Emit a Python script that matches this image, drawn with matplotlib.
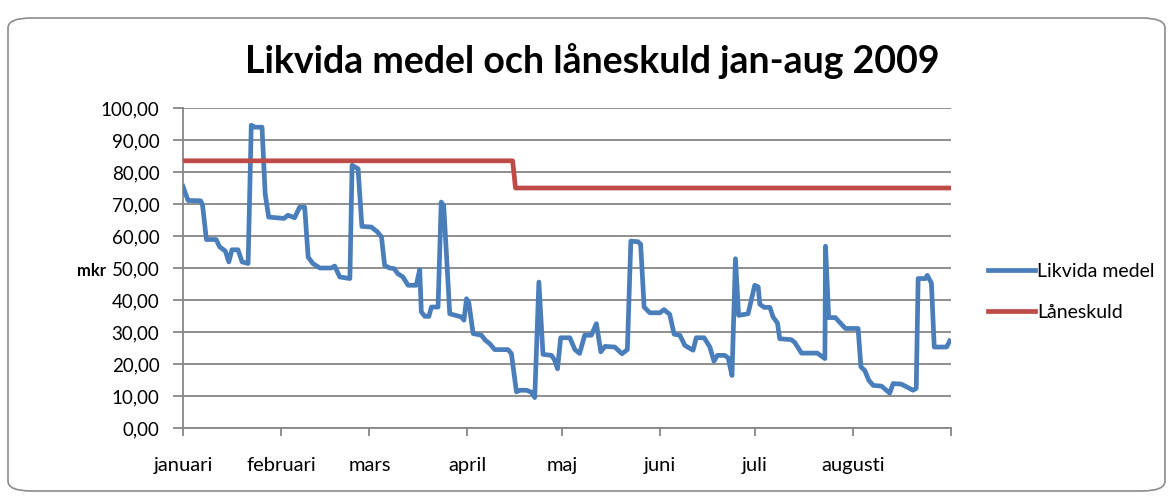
import matplotlib.pyplot as plt
from matplotlib.patches import FancyBboxPatch
from matplotlib.ticker import FuncFormatter
import numpy as np
import pandas as pd

# dag (från 1 jan 2009) och värde, avlästa punkter
likvida_dag = [0, 1.6, 5.6, 6.2, 7.4, 10.5, 11.6, 13.4, 14.5, 15.5, 17.4, 18.7, 20.6,
               21.6, 22.8, 25, 26, 27.1, 32, 33.2, 35.3, 36.9, 38.5, 39.6, 41.1, 43.3,
               46.9, 48, 49.6, 52.8, 53.5, 55.4, 56.6, 59.6, 61.5, 62.8, 63.8, 65.4,
               66.8, 68, 69.6, 71.2, 73.8, 74.9, 75.4, 76.5, 77.8, 78.6, 80.7, 81.7,
               82.5, 84.4, 88.1, 88.9, 89.7, 90.4, 91.8, 94.4, 95.7, 97.1, 98.6, 102.8,
               103.9, 105.5, 106.6, 108.7, 110.2, 111.3, 112.6, 113.9, 116.6, 117.6,
               118.5, 119.5, 122.4, 124, 125.5, 127.1, 129.2, 130.8, 132.2, 133.5,
               136.6, 138.9, 140.6, 141.7, 144, 144.8, 145.9, 147.7, 150.9, 152.2, 154,
               155.4, 157.2, 158.8, 161.4, 162.4, 164.9, 166.7, 168, 169.1, 171.4,
               172.5, 173.7, 174.8, 175.8, 178.8, 180.9, 182, 182.5, 183.9, 185.7,
               186.7, 188.1, 188.8, 192.5, 193.6, 195.7, 200.7, 203.1, 203.3, 204.3,
               206.4, 209.6, 213.6, 214.5, 215.7, 217, 218.4, 221, 223.6, 224.7, 227.3,
               231, 232, 232.6, 234.9, 235.5, 236.8, 237.7, 241.6, 242.6]
likvida = [75.5, 71.1, 71, 69.5, 58.9, 58.9, 56.6, 55.3, 51.9, 55.7, 55.7, 51.9, 51.4,
           94.6, 94, 94, 73.2, 65.9, 65.5, 66.5, 65.7, 69, 69, 53.4, 51.4, 50,
           50, 50.6, 47.2, 46.7, 82.1, 81, 63, 62.8, 61.3, 59.7, 50.8, 50,
           49.8, 48.2, 47.2, 44.6, 44.6, 49.5, 36.3, 34.9, 34.9, 37.8, 37.8, 70.6,
           69.5, 35.7, 34.7, 33.7, 40.4, 39.4, 29.5, 29, 27.4, 26.3, 24.5, 24.5,
           23.3, 11.3, 11.8, 11.8, 11.2, 9.5, 45.6, 23, 22.7, 21.2,
           18.5, 28.2, 28.2, 24.5, 23.3, 29, 29, 32.6, 23.8, 25.5,
           25.3, 23.2, 24.5, 58.4, 58.2, 57.4, 37.8, 36, 36, 37, 35.5,
           29.3, 29, 25.8, 24.3, 28.2, 28.2, 25.3, 20.9, 22.7, 22.7,
           21.9, 16.4, 52.9, 35.2, 35.7, 44.6, 44.1, 38.7, 37.7, 37.7,
           34.7, 32.8, 27.9, 27.6, 26.7, 23.4, 23.4, 21.7, 56.8, 34.5,
           34.5, 31.1, 31.1, 19.1, 18, 14.9, 13.3, 13.1, 10.9, 13.9, 13.7,
           11.8, 12.4, 46.7, 46.7, 47.7, 45.3, 25.3, 25.3, 27.2]

lan_dag = [0, 104.3, 105.2, 242.6]
laneskuld = [83.5, 83.5, 75.0, 75.0]

manader = ['januari', 'februari', 'mars', 'april', 'maj', 'juni', 'juli', 'augusti']
manad_start = (pd.date_range('2009-01-01', '2009-09-01', freq='MS').dayofyear - 1).tolist()
manad_start[-1] = 243

plt.rcParams['font.family'] = ['Lato', 'DejaVu Sans']

fig = plt.figure(figsize=(11.73, 4.96), dpi=100)
ax = fig.add_axes([183 / 1173, 1 - 428 / 496, 768 / 1173, 320 / 496])

# ram runt diagrammet
fig.patches.append(FancyBboxPatch((8 / 1173, 5 / 496), 1157 / 1173, 473 / 496,
                                  boxstyle='round,pad=0,rounding_size=0.02',
                                  transform=fig.transFigure, fill=False,
                                  edgecolor='#8c8c8c', linewidth=1.2, zorder=0))

ax.plot(likvida_dag, likvida, color='#4a7ebb', lw=3.4, label='Likvida medel',
        solid_joinstyle='round', zorder=3)
ax.plot(lan_dag, laneskuld, color='#be4b48', lw=3.4, label='Låneskuld', zorder=3)

ax.set_xlim(0, 243)
ax.set_ylim(0, 100)
ax.set_yticks(np.arange(0, 101, 10))
ax.yaxis.set_major_formatter(FuncFormatter(lambda v, p: f'{v:.2f}'.replace('.', ',')))
ax.set_xticks(manad_start)
ax.set_xticklabels(manader + [''])
ax.grid(axis='y', color='#868686', lw=1.3)
ax.set_axisbelow(True)
for s in ['top', 'right']:
    ax.spines[s].set_visible(False)
for s in ['left', 'bottom']:
    ax.spines[s].set_color('#868686')
    ax.spines[s].set_linewidth(1.3)
ax.tick_params(axis='y', length=7, width=1.3, color='#868686', labelsize=13.5, pad=10)
ax.tick_params(axis='x', length=6, width=1.3, color='#868686', labelsize=14.5, pad=15)

ax.set_ylabel('mkr', rotation=0, fontsize=12, fontweight='bold', va='center', ha='center')
ax.yaxis.set_label_coords(-0.119, 0.49)

fig.text(0.505, 0.878, 'Likvida medel och låneskuld jan-aug 2009', ha='center', va='center',
         fontsize=27, fontweight='bold')

ax.legend(loc='center left', bbox_to_anchor=(1.026, 0.425), frameon=False, fontsize=14,
          handlelength=2.4, handletextpad=0.12, labelspacing=1.25)

fig.savefig('out.png', dpi=100)
